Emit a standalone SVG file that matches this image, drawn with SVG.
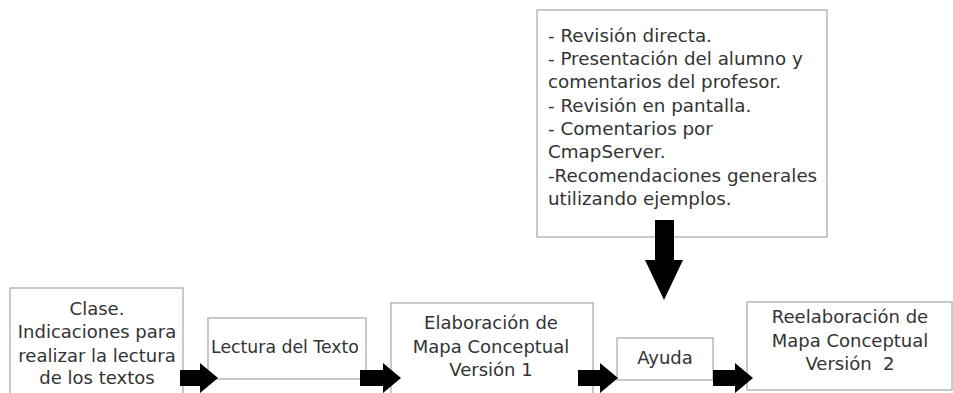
<svg xmlns="http://www.w3.org/2000/svg" width="953" height="393" viewBox="0 0 953 393">
<style>
.box{fill:#fff;stroke:#b8b8b8;stroke-width:1.5}
text{font-family:"DejaVu Sans","Liberation Sans",sans-serif;font-size:18px;fill:#333}
.t{font-size:18.3px}
.s{font-size:17.3px}
.c{text-anchor:middle}
.arr{fill:#000}
</style>
<rect width="953" height="393" fill="#fff"/>
<g id="top">
<rect class="box" x="537" y="10" width="290" height="227"/>
<text class="t" x="548" y="42">- Revisión directa.</text>
<text class="t" x="548" y="65">- Presentación del alumno y</text>
<text class="t" x="548" y="88">comentarios del profesor.</text>
<text class="t" x="548" y="112">- Revisión en pantalla.</text>
<text class="t" x="548" y="135">- Comentarios por</text>
<text class="t" x="548" y="158">CmapServer.</text>
<text class="t" x="548" y="182">-Recomendaciones generales</text>
<text class="t" x="548" y="205">utilizando ejemplos.</text>
</g>
<g id="clase">
<rect class="box" x="10" y="288" width="173" height="120"/>
<text class="c" x="97" y="315">Clase.</text>
<text class="c" x="97" y="338">Indicaciones para</text>
<text class="c" x="97" y="362">realizar la lectura</text>
<text class="c" x="97" y="384">de los textos</text>
</g>
<g id="lectura">
<rect class="box" x="208" y="318" width="158" height="61"/>
<text class="c s" x="285" y="353">Lectura del Texto</text>
</g>
<g id="elab">
<rect class="box" x="391" y="303" width="202" height="110"/>
<text class="c" x="491" y="329">Elaboración de</text>
<text class="c" x="491" y="353">Mapa Conceptual</text>
<text class="c" x="491" y="376">Versión 1</text>
</g>
<g id="ayuda">
<rect class="box" x="617" y="338" width="96" height="42"/>
<text class="c" x="665" y="364">Ayuda</text>
</g>
<g id="reelab">
<rect class="box" x="747" y="302" width="205" height="88"/>
<text class="c" x="850" y="323">Reelaboración de</text>
<text class="c" x="850" y="347">Mapa Conceptual</text>
<text class="c" x="850" y="370" xml:space="preserve">Versión  2</text>
</g>
<g id="connectors">
<polygon class="arr" points="180,370 200,370 200,363 218,378 200,393 200,386 180,386"/>
<polygon class="arr" points="360,370 383,370 383,363 401,378 383,393 383,386 360,386"/>
<polygon class="arr" points="578,370 600,370 600,363 618,378 600,393 600,386 578,386"/>
<polygon class="arr" points="713,370 735,370 735,363 753,378 735,393 735,386 713,386"/>
<polygon class="arr" points="655,220 674,220 674,260 683,260 664,300 645,260 655,260"/>
</g>
</svg>
